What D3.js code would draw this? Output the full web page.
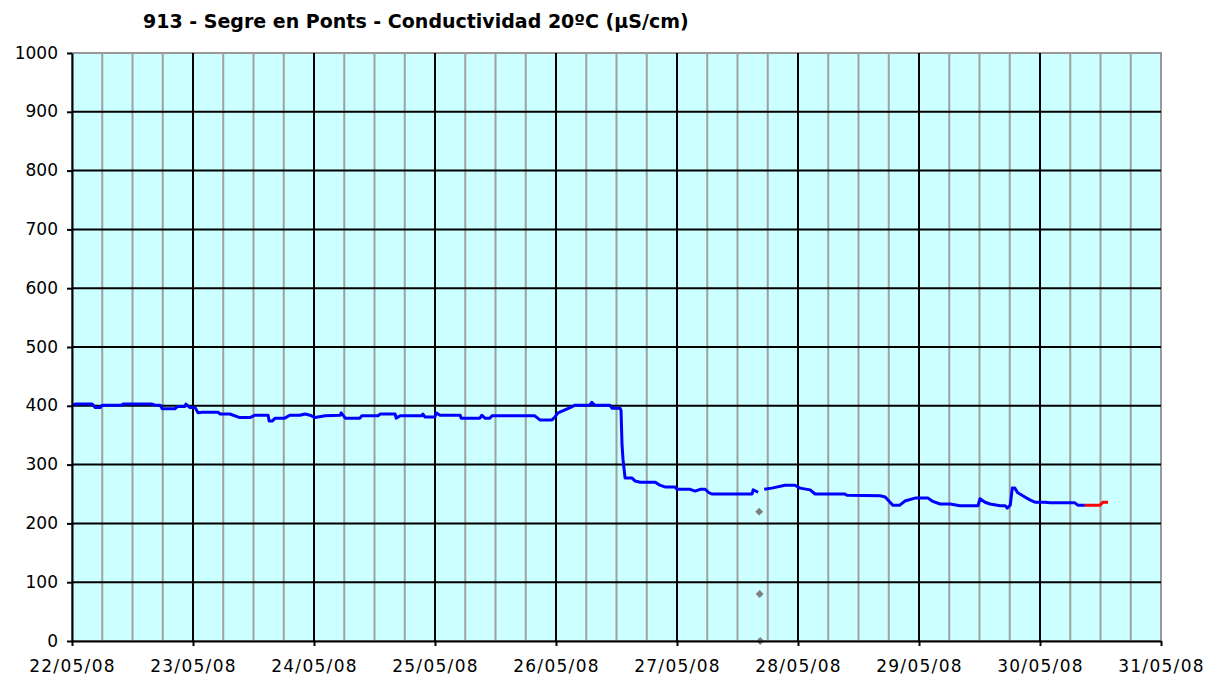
<!DOCTYPE html>
<html>
<head>
<meta charset="utf-8">
<script src="https://cdn.jsdelivr.net/npm/d3@7"></script>
<style>
  body { margin: 0; background: #fff; }
  svg text { font-family: "DejaVu Sans", Verdana, sans-serif; fill: #000; }
</style>
</head>
<body>
<svg id="chart" width="1207" height="675"></svg>
<script>
// hours since 22/05/08 00:00, conductivity (uS/cm); null = gap in the record
let condHours = [0, 0.8, 4.0, 4.6, 5.6, 6.0, 9.9, 10.1, 15.9, 16.5, 17.5, 17.9, 20.4, 21.0, 22.4, 22.6, 23.4, 24.4,
    25.0, 25.8, 29.0, 29.4, 31.3, 33.3, 35.3, 36.3, 38.9, 39.1, 39.7, 40.3, 42.2, 43.2, 45.2, 46.2, 47.2, 48.2,
    50.2, 53.2, 53.4, 54.2, 57.1, 57.5, 60.7, 61.1, 64.1, 64.3, 65.1, 69.4, 69.6, 70.0, 72.0, 72.2, 73.0, 77.0,
    77.2, 80.9, 81.3, 81.9, 82.9, 83.3, 91.8, 92.8, 95.2, 95.8, 96.4, 97.2, 98.8, 99.8, 102.7, 103.1, 103.7,
    106.7, 107.1, 108.7, 108.9, 109.1, 109.3, 109.7, 111.1, 111.7, 112.7, 115.7, 116.6, 117.6, 119.6, 120.0,
    122.6, 123.6, 124.6, 125.6, 126.2, 126.9, 134.9, 135.1, 136.1, 136.7, 137.3, 138.8, 141.4, 143.4, 144.4,
    146.4, 147.4, 153.3, 153.7, 160.3, 161.3, 162.8, 164.2, 165.2, 167.2, 169.8, 170.6, 172.2, 174.2, 176.1,
    179.7, 180.1, 181.1, 182.1, 184.1, 185.1, 185.5, 186.1, 186.5, 187.0, 187.6, 189.0, 190.0, 191.0, 193.0,
    194.0, 198.9, 199.5, 200.9];
let condValues = [401, 403, 403, 397, 397, 401, 401, 403, 403, 401, 401, 395, 395, 399, 399, 403, 397, 397,
    388, 389, 389, 386, 386, 380, 380, 384, 384, 374, 374, 379, 379, 384, 384, 386, 384, 380,
    383, 384, 388, 379, 379, 383, 383, 386, 386, 379, 383, 383, 386, 381, 381, 388, 384, 384,
    379, 379, 384, 379, 379, 383, 383, 376, 376, 381, 388, 391, 397, 401, 401, 406, 401,
    401, 396, 396, 392, 333, 308, 277, 277, 272, 270, 270, 265, 262, 262, 258,
    258, 255, 258, 258, 253, 250, 250, 257, 253, null, 258, 260, 265, 265, 260,
    257, 250, 250, 248, 247, 245, 231, 231, 238, 243, 243, 238, 233, 233, 230,
    230, 242, 236, 233, 230, 230, 226, 231, 260, 260, 252, 245, 240, 236, 236,
    235, 235, 231, 231];

// latest (provisional) readings, drawn in red
let lastHours = [200.9, 203.9, 204.5, 205.5];
let lastValues = [231, 231, 236, 236];

// isolated readings shown as grey markers
let markHours = [136.3, 136.4, 136.5];
let markValues = [220, 80, 0];

let yTicks = [0, 100, 200, 300, 400, 500, 600, 700, 800, 900, 1000];
let chartTitle = '913 - Segre en Ponts - Conductividad 20ºC (µS/cm)';

let startDate = new Date(2008, 4, 22);
let endDate = new Date(2008, 4, 31);

let pLeft = 72, pTop = 53, pRight = 1161, pBottom = 641;
let x, y;

function toDate(h) {
    return new Date(startDate.getTime() + h * 3600 * 1000);
}

function init_scales() {
    x = d3.scaleTime().domain([startDate, endDate]).range([pLeft, pRight]);
    y = d3.scaleLinear().domain([0, 1000]).range([pBottom, pTop]);
}

function draw_grid(svg) {
    let g = svg.append('g').attr('class', 'grid');

    g.append('rect')
        .attr('x', pLeft)
        .attr('y', pTop)
        .attr('width', pRight - pLeft)
        .attr('height', pBottom - pTop)
        .attr('fill', '#ccffff')
        .attr('stroke', '#999999')
        .attr('stroke-width', 2);

    // every 6 hours, grey
    let minor = d3.timeHour.every(6).range(startDate, endDate).filter(d => d.getHours() !== 0);
    g.selectAll('.minor')
        .data(minor)
        .enter()
        .append('line')
        .attr('x1', d => x(d))
        .attr('x2', d => x(d))
        .attr('y1', pTop)
        .attr('y2', pBottom)
        .attr('stroke', '#a0a0a0')
        .attr('stroke-width', 2);

    let days = d3.timeDay.range(d3.timeDay.offset(startDate, 1), endDate);
    g.selectAll('.major')
        .data(days)
        .enter()
        .append('line')
        .attr('x1', d => x(d))
        .attr('x2', d => x(d))
        .attr('y1', pTop)
        .attr('y2', pBottom)
        .attr('stroke', '#000')
        .attr('stroke-width', 2);

    g.selectAll('.hline')
        .data(yTicks.filter(v => v > 0 && v < 1000))
        .enter()
        .append('line')
        .attr('x1', pLeft)
        .attr('x2', pRight)
        .attr('y1', d => y(d))
        .attr('y2', d => y(d))
        .attr('stroke', '#000')
        .attr('stroke-width', 2);
}

function draw_axes(svg) {
    let ya = svg.append('g')
        .attr('transform', 'translate(' + pLeft + ',0)')
        .call(d3.axisLeft(y).tickValues(yTicks).tickFormat(d3.format('d'))
            .tickSize(5).tickPadding(9).tickSizeOuter(0));
    ya.select('.domain').attr('stroke', '#000').attr('stroke-width', 2);
    ya.selectAll('.tick line').attr('stroke', '#000').attr('stroke-width', 2);
    ya.selectAll('text').attr('font-size', '17px').attr('font-family', '"DejaVu Sans", sans-serif')
        .attr('dy', '0.3em');

    let xa = svg.append('g')
        .attr('transform', 'translate(0,' + pBottom + ')')
        .call(d3.axisBottom(x).ticks(d3.timeDay.every(1)).tickFormat(d3.timeFormat('%d/%m/%y'))
            .tickSize(5).tickPadding(14).tickSizeOuter(0));
    xa.select('.domain').attr('stroke', '#000').attr('stroke-width', 2);
    xa.selectAll('.tick line').attr('stroke', '#000').attr('stroke-width', 2);
    xa.selectAll('text').attr('font-size', '17px').attr('font-family', '"DejaVu Sans", sans-serif')
        .style('letter-spacing', '1.3px');
}

function draw_series(svg) {
    let g = svg.append('g').attr('class', 'series');

    let line = d3.line()
        .defined(d => d[1] !== null)
        .x(d => x(toDate(d[0])))
        .y(d => y(d[1]));

    let cond = condHours.map((h, i) => [h, condValues[i]]);
    let last = lastHours.map((h, i) => [h, lastValues[i]]);

    g.append('path')
        .datum(cond)
        .attr('d', line)
        .attr('fill', 'none')
        .attr('stroke', '#0000ff')
        .attr('stroke-width', 3)
        .attr('stroke-linejoin', 'round');

    g.append('path')
        .datum(last)
        .attr('d', line)
        .attr('fill', 'none')
        .attr('stroke', '#ff0000')
        .attr('stroke-width', 3);

    let marks = markHours.map((h, i) => [h, markValues[i]]);
    g.selectAll('.mark')
        .data(marks)
        .enter()
        .append('path')
        .attr('d', d3.symbol().type(d3.symbolDiamond2).size(40))
        .attr('transform', d => 'translate(' + x(toDate(d[0])) + ',' + y(d[1]) + ')')
        .attr('fill', '#808080');
}

let svg = d3.select('#chart');
init_scales();
draw_grid(svg);
draw_series(svg);
draw_axes(svg);

svg.append('text')
    .attr('x', 143)
    .attr('y', 28)
    .attr('font-size', '19px')
    .attr('font-weight', 'bold')
    .text(chartTitle);
</script>
</body>
</html>
